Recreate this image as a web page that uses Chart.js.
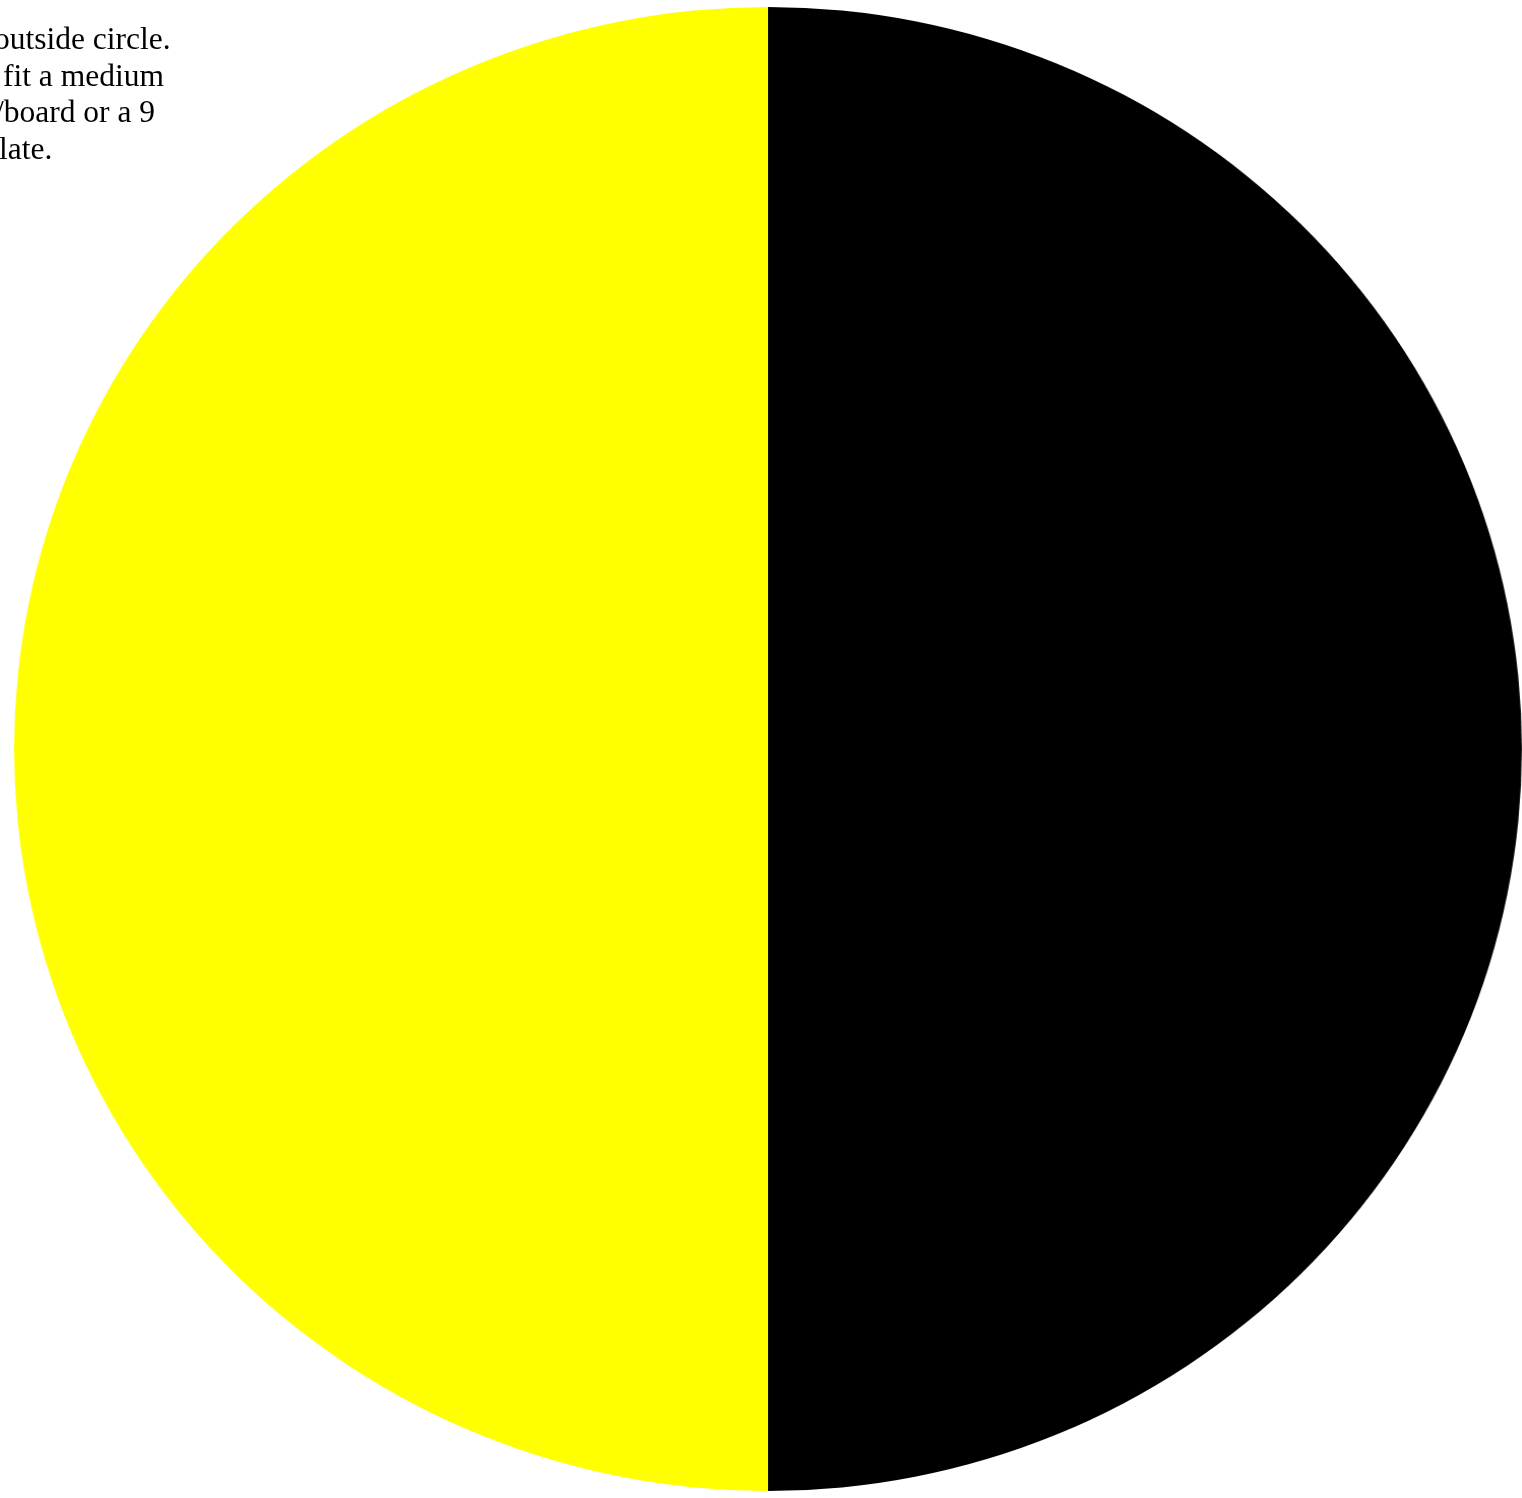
<!DOCTYPE html>
<html>
<head>
<meta charset="utf-8">
<script src="https://cdn.jsdelivr.net/npm/chart.js@4"></script>
<style>
  html, body { margin: 0; padding: 0; background: #fff; width: 1522px; height: 1498px; overflow: hidden; }
  #wrap { position: absolute; left: 26px; top: 7px; width: 1484px; height: 1484px; transform: scaleX(1.016); transform-origin: 50% 50%; }
  .note { position: absolute; font-family: "Liberation Serif", "Times New Roman", serif; font-size: 31.5px; color: #000; white-space: nowrap; line-height: 37px; z-index: 2; }
</style>
</head>
<body>
<div id="wrap"><canvas id="c"></canvas></div>
<div class="note" style="left:-6px; top:20px;">outside circle.</div>
<div class="note" style="left:3px; top:57px;">fit a medium</div>
<div class="note" style="left:-5px; top:93px;">/board or a 9</div>
<div class="note" style="left:-1px; top:130px;">late.</div>
<script>
const labels = ["Yellow", "Black"];
const values = [50, 50];
const colors = ["#ffff00", "#000000"];

new Chart(document.getElementById("c"), {
  type: "pie",
  data: {
    labels: labels,
    datasets: [{ data: values, backgroundColor: colors, borderWidth: 0 }]
  },
  options: {
    responsive: true,
    maintainAspectRatio: false,
    animation: false,
    rotation: 180,
    layout: { padding: 0 },
    plugins: { legend: { display: false }, tooltip: { enabled: false } }
  }
});
</script>
</body>
</html>
